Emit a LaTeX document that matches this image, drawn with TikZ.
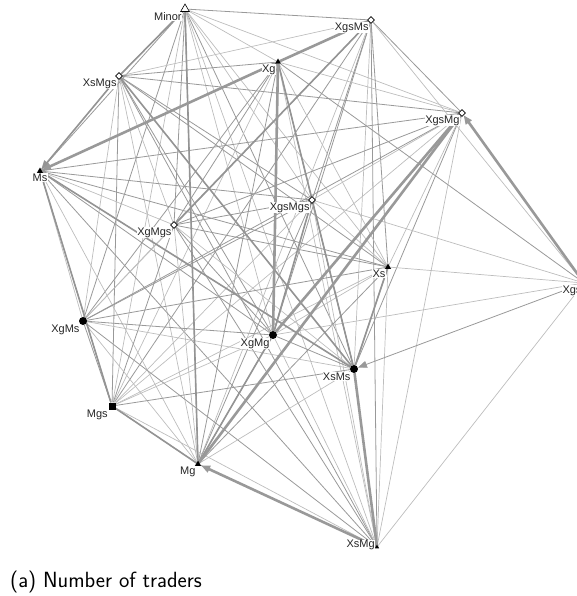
\documentclass[tikz,border=0pt]{standalone}
\usepackage{fontspec}
\newfontfamily\labelfont{Liberation Sans}
\usetikzlibrary{arrows.meta,shapes.geometric,backgrounds}
\tikzset{
  tri/.style={regular polygon, regular polygon sides=3, fill=black, inner sep=0pt, minimum size=7pt},
  opentri/.style={regular polygon, regular polygon sides=3, draw=black, fill=white, inner sep=0pt, minimum size=10pt, line width=0.6pt},
  dia/.style={diamond, draw=black, fill=white, inner sep=0pt, minimum size=7pt, line width=0.6pt},
  dot/.style={circle, fill=black, inner sep=0pt, minimum size=8pt},
  sq/.style={rectangle, fill=black, inner sep=0pt, minimum size=7pt},
  lbl/.style={font=\labelfont\fontsize{11}{12}\selectfont, text=black!85, fill=white, inner sep=0.4pt},
  link/.style={draw=black!40, line width=0.8pt},
  faintlink/.style={draw=black!26, line width=0.7pt},
  midlink/.style={draw=black!42, line width=1.6pt},
  heavylink/.style={draw=black!40, line width=2.6pt},
  flow/.style={-{Triangle[length=9pt,width=7pt]}},
  caption/.style={font=\sffamily\fontsize{22}{26}\selectfont, inner sep=0pt}
}
\begin{document}
\begin{tikzpicture}[x=1pt,y=-1pt]
\useasboundingbox (0,0) rectangle (576,596);
% traders
\node[opentri, label={[lbl]below left:Minor}] (minor) at (185,9) {};
\node[dia, label={[lbl]below left:XgsMs}] (xgsms) at (371,20) {};
\node[tri, label={[lbl]below left:Xg}] (xg) at (278,62) {};
\node[dia, label={[lbl]below left:XsMgs}] (xsmgs) at (119,76) {};
\node[dia, label={[lbl]below left:XgsMg}] (xgsmg) at (462,113) {};
\node[tri, label={[lbl]below:Ms}] (ms) at (40,171) {};
\node[dia, label={[lbl]below left:XgsMgs}] (xgsmgs) at (312,200) {};
\node[dia, label={[lbl]below left:XgMgs}] (xgmgs) at (174,225) {};
\node[tri, label={[lbl]below left:Xs}] (xs) at (388,267) {};
\node[tri, label={[lbl]below left:Xgs}] (xgs) at (584,283) {};
\node[dot, label={[lbl]below left:XgMs}] (xgms) at (83,321) {};
\node[dot, label={[lbl]below left:XgMg}] (xgmg) at (273,335) {};
\node[dot, label={[lbl]below left:XsMs}] (xsms) at (354,369) {};
\node[sq, label={[lbl]below left:Mgs}] (mgs) at (112,406) {};
\node[tri, label={[lbl]below left:Mg}] (mg) at (198,464) {};
\node[tri, minimum size=5pt, label={[lbl, yshift=2pt]left:XsMg}] (xsmg) at (377,547) {};
\node[caption, anchor=base west] (cap) at (10,587) {(a) Number of traders};
% links
\begin{scope}[on background layer]
\foreach \a [count=\i] in {minor,xgsms,xg,xsmgs,xgsmg,ms,xgsmgs,xgmgs,xs,xgms,xgmg,xsms,mgs,mg,xsmg} {
  \foreach \b [count=\j] in {minor,xgsms,xg,xsmgs,xgsmg,ms,xgsmgs,xgmgs,xs,xgms,xgmg,xsms,mgs,mg,xsmg} {
    \ifnum\j>\i
      \ifodd\numexpr\i+\j\relax \draw[link] (\a) -- (\b); \else \draw[faintlink] (\a) -- (\b); \fi
    \fi
  }
}
\foreach \b in {xgsms,xgsmgs,xs,xgmg,xsmg}
  \draw[faintlink] (xgs) -- (\b);
\draw[link] (xgs) -- (xg);
\draw[link, flow] (xgs) -- (xsms);
% heavier links
\foreach \a/\b in {xsmgs/xsms,ms/xsms,xsmgs/minor,xgmgs/xgsms,ms/mgs,xg/xsms,minor/mg,mg/xgmg,mgs/mg,xgsmgs/xgmg,xs/xsms}
  \draw[midlink] (\a) -- (\b);
\draw[midlink, flow] (xsmgs) -- (ms);
\foreach \a/\b in {xg/xgmg,xgsmg/xgmg,xgsmg/mg,xsms/xsmg,xg/xgsms}
  \draw[heavylink] (\a) -- (\b);
\draw[heavylink, flow] (xg) -- (ms);
\draw[heavylink, flow] (xsmg) -- (mg);
\draw[heavylink, flow] (xgs) -- (xgsmg);
\end{scope}
\end{tikzpicture}
\end{document}
